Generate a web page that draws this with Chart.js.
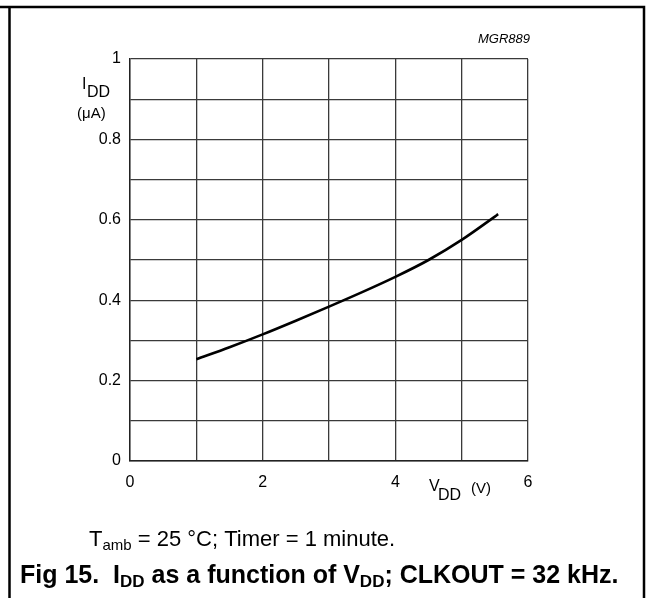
<!DOCTYPE html>
<html><head><meta charset="utf-8">
<script src="https://cdn.jsdelivr.net/npm/chart.js@4"></script>
<style>html,body{margin:0;padding:0;background:#fff}#wrap{position:relative;width:648px;height:598px}</style>
</head><body><div id="wrap"><canvas id="c" width="648" height="598"></canvas></div>
<script>
const vdd = [1.0, 1.5, 2.0, 2.5, 3.0, 3.5, 4.0, 4.5, 5.0, 5.5, 5.55];
const idd = [0.253, 0.283, 0.315, 0.349, 0.384, 0.420, 0.458, 0.500, 0.550, 0.608, 0.614];
const xTickLabels = ['0', '2', '4', '6'];
const yTickLabels = ['0', '0.2', '0.4', '0.6', '0.8', '1'];
const FONT = '"Liberation Sans", Arial, sans-serif';

const decor = {
  id: 'decor',
  afterDraw(chart) {
    const ctx = chart.ctx;
    ctx.save();
    // outer frame
    ctx.strokeStyle = '#000'; ctx.lineWidth = 2.5;
    ctx.beginPath();
    ctx.moveTo(0, 7); ctx.lineTo(644, 7); ctx.lineTo(644, 598);
    ctx.moveTo(9.5, 7); ctx.lineTo(9.5, 598);
    ctx.stroke();
    ctx.fillStyle = '#000';
    ctx.textBaseline = 'alphabetic';
    // MGR889
    ctx.font = 'italic 13px ' + FONT; ctx.textAlign = 'right';
    ctx.fillText('MGR889', 530, 43);
    // y title
    ctx.textAlign = 'left';
    ctx.font = '16px ' + FONT;
    ctx.fillText('I', 82, 89);
    ctx.fillText('DD', 87, 97);
    ctx.font = '15px ' + FONT;
    ctx.fillText('(\u03bcA)', 77, 118);
    // x title
    ctx.font = '16px ' + FONT;
    ctx.fillText('V', 429, 491);
    ctx.fillText('DD', 438, 500);
    ctx.font = '15px ' + FONT;
    ctx.fillText('(V)', 471, 493);
    // caption line 1
    let x = 89;
    const seg = (t, f, y) => { ctx.font = f; ctx.fillText(t, x, y); x += ctx.measureText(t).width; };
    seg('T', '22px ' + FONT, 546);
    seg('amb', '15px ' + FONT, 550);
    seg(' = 25 \u00b0C; Timer = 1 minute.', '22px ' + FONT, 546);
    // caption line 2
    x = 20;
    seg('Fig 15.  I', 'bold 25px ' + FONT, 583);
    seg('DD', 'bold 17px ' + FONT, 587);
    seg(' as a function of V', 'bold 25px ' + FONT, 583);
    seg('DD', 'bold 17px ' + FONT, 587);
    seg('; CLKOUT = 32 kHz.', 'bold 25px ' + FONT, 583);
    ctx.restore();
  }
};

new Chart(document.getElementById('c'), {
  type: 'scatter',
  data: {
    datasets: [{
      data: vdd.map((v, i) => ({x: v, y: idd[i]})),
      showLine: true,
      borderColor: '#000',
      borderWidth: 2.6,
      pointRadius: 0,
      cubicInterpolationMode: 'monotone',
      fill: false
    }]
  },
  options: {
    responsive: false,
    animation: false,
    events: [],
    layout: {padding: {left: 0, top: 59, right: 120, bottom: 0}},
    plugins: {legend: {display: false}, tooltip: {enabled: false}},
    scales: {
      x: {
        type: 'linear', min: 0, max: 6,
        afterFit(s) { s.height = 137; },
        ticks: {
          stepSize: 1, autoSkip: false, maxRotation: 0,
          color: '#000', font: {family: FONT, size: 16}, padding: 12,
          callback: (v) => xTickLabels.includes(String(v)) ? String(v) : ''
        },
        grid: {color: '#3a3a3a', lineWidth: 1.3, drawTicks: false},
        border: {color: '#222', width: 1.4}
      },
      y: {
        type: 'linear', min: 0, max: 1,
        afterFit(s) { s.width = 130; },
        ticks: {
          stepSize: 0.1, autoSkip: false,
          color: '#000', font: {family: FONT, size: 16}, padding: 9,
          callback: (v) => { const t = String(Math.round(v * 10) / 10); return yTickLabels.includes(t) ? t : ''; }
        },
        grid: {color: '#3a3a3a', lineWidth: 1.3, drawTicks: false},
        border: {color: '#222', width: 1.4}
      }
    }
  },
  plugins: [decor]
});
</script></body></html>
